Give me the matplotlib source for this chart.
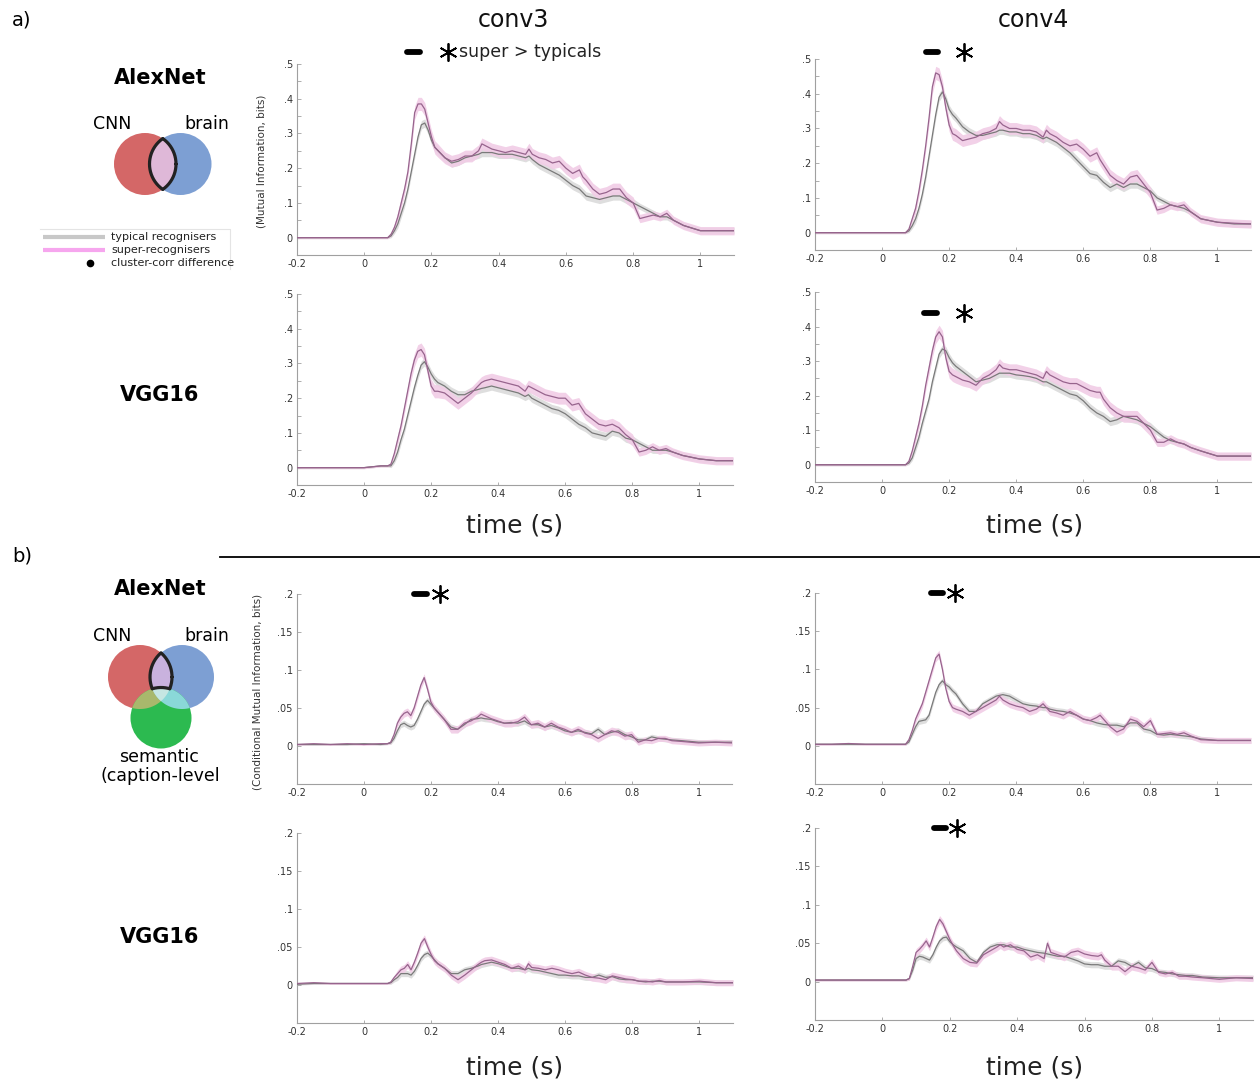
import numpy as np
import matplotlib
matplotlib.use("Agg")
import matplotlib.pyplot as plt
from matplotlib.patches import Circle, Polygon

plt.rcParams["font.family"] = ["DejaVu Sans"]

# ---------------------------------------------------------------- data
time_s = np.array([
    -0.20, -0.15, -0.10, -0.05, 0.00, 0.05, 0.07, 0.08, 0.09,
    0.10, 0.11, 0.12, 0.13, 0.14, 0.15, 0.16, 0.17, 0.18, 0.19, 0.20, 0.21, 0.22,
    0.24, 0.26, 0.28, 0.30, 0.32, 0.34, 0.35, 0.36, 0.38, 0.40, 0.42, 0.44, 0.46, 0.48, 0.49, 0.50,
    0.52, 0.54, 0.56, 0.58, 0.60, 0.62, 0.64, 0.65, 0.66, 0.68, 0.70, 0.72, 0.74, 0.76, 0.78, 0.80,
    0.82, 0.84, 0.86, 0.88, 0.90, 0.92, 0.95, 1.00, 1.05, 1.10])

# a) mutual information, AlexNet conv3
mi_alex_conv3_super = [
    0, 0, 0, 0, 0, 0, 0, 0.01, 0.03,
    0.06, 0.10, 0.14, 0.19, 0.27, 0.36, 0.385, 0.385, 0.37, 0.33, 0.29, 0.26, 0.25,
    0.23, 0.22, 0.225, 0.235, 0.235, 0.25, 0.27, 0.265, 0.255, 0.25, 0.245, 0.25, 0.245, 0.24, 0.255, 0.24,
    0.23, 0.225, 0.215, 0.22, 0.20, 0.185, 0.195, 0.175, 0.165, 0.14, 0.125, 0.13, 0.14, 0.14, 0.115, 0.10,
    0.055, 0.06, 0.065, 0.06, 0.07, 0.05, 0.035, 0.02, 0.02, 0.02]
mi_alex_conv3_typical = [
    0, 0, 0, 0, 0, 0, 0, 0.005, 0.02,
    0.04, 0.07, 0.10, 0.14, 0.19, 0.24, 0.29, 0.325, 0.33, 0.31, 0.28, 0.26, 0.25,
    0.23, 0.215, 0.22, 0.23, 0.235, 0.24, 0.245, 0.245, 0.245, 0.24, 0.24, 0.24, 0.235, 0.23, 0.235, 0.225,
    0.21, 0.20, 0.19, 0.18, 0.165, 0.15, 0.14, 0.13, 0.12, 0.115, 0.11, 0.115, 0.12, 0.12, 0.11, 0.10,
    0.09, 0.08, 0.07, 0.06, 0.06, 0.05, 0.035, 0.02, 0.02, 0.02]

# a) mutual information, AlexNet conv4
mi_alex_conv4_super = [
    0, 0, 0, 0, 0, 0, 0, 0.01, 0.04,
    0.07, 0.12, 0.18, 0.25, 0.33, 0.42, 0.46, 0.455, 0.42, 0.36, 0.31, 0.285, 0.28,
    0.265, 0.27, 0.275, 0.285, 0.29, 0.30, 0.32, 0.31, 0.30, 0.30, 0.295, 0.295, 0.29, 0.275, 0.295, 0.285,
    0.275, 0.26, 0.25, 0.255, 0.24, 0.22, 0.23, 0.21, 0.195, 0.165, 0.15, 0.14, 0.16, 0.165, 0.14, 0.115,
    0.065, 0.07, 0.08, 0.075, 0.08, 0.06, 0.04, 0.03, 0.027, 0.025]
mi_alex_conv4_typical = [
    0, 0, 0, 0, 0, 0, 0, 0.005, 0.02,
    0.04, 0.07, 0.11, 0.16, 0.22, 0.28, 0.34, 0.39, 0.405, 0.385, 0.355, 0.34, 0.33,
    0.305, 0.29, 0.28, 0.28, 0.285, 0.29, 0.295, 0.295, 0.29, 0.29, 0.285, 0.285, 0.28, 0.27, 0.275, 0.27,
    0.26, 0.245, 0.23, 0.21, 0.19, 0.17, 0.165, 0.155, 0.145, 0.13, 0.14, 0.13, 0.14, 0.14, 0.13, 0.12,
    0.10, 0.09, 0.08, 0.075, 0.07, 0.06, 0.04, 0.03, 0.025, 0.025]

# a) mutual information, VGG16 conv3
mi_vgg_conv3_super = [
    0, 0, 0, 0, 0, 0.005, 0.005, 0.01, 0.04,
    0.08, 0.12, 0.17, 0.22, 0.27, 0.31, 0.335, 0.34, 0.325, 0.28, 0.235, 0.22, 0.22,
    0.215, 0.20, 0.185, 0.20, 0.215, 0.235, 0.245, 0.25, 0.255, 0.25, 0.245, 0.24, 0.235, 0.22, 0.235, 0.23,
    0.22, 0.21, 0.205, 0.20, 0.20, 0.18, 0.185, 0.17, 0.155, 0.14, 0.125, 0.12, 0.125, 0.115, 0.095, 0.08,
    0.045, 0.05, 0.06, 0.05, 0.055, 0.045, 0.035, 0.025, 0.02, 0.02]
mi_vgg_conv3_typical = [
    0, 0, 0, 0, 0, 0.005, 0.005, 0.005, 0.02,
    0.045, 0.08, 0.11, 0.15, 0.19, 0.23, 0.265, 0.295, 0.305, 0.29, 0.27, 0.255, 0.245,
    0.235, 0.22, 0.21, 0.21, 0.22, 0.225, 0.228, 0.23, 0.235, 0.23, 0.225, 0.22, 0.215, 0.205, 0.21, 0.20,
    0.19, 0.18, 0.17, 0.165, 0.155, 0.14, 0.125, 0.12, 0.115, 0.10, 0.095, 0.09, 0.105, 0.10, 0.085, 0.08,
    0.07, 0.06, 0.05, 0.05, 0.05, 0.045, 0.035, 0.025, 0.02, 0.02]

# a) mutual information, VGG16 conv4
mi_vgg_conv4_super = [
    0, 0, 0, 0, 0, 0, 0, 0.01, 0.04,
    0.08, 0.12, 0.17, 0.23, 0.28, 0.33, 0.37, 0.385, 0.37, 0.31, 0.27, 0.26, 0.255,
    0.245, 0.24, 0.23, 0.25, 0.26, 0.275, 0.29, 0.28, 0.275, 0.275, 0.27, 0.265, 0.26, 0.25, 0.27, 0.26,
    0.25, 0.24, 0.235, 0.235, 0.225, 0.215, 0.21, 0.21, 0.19, 0.165, 0.15, 0.14, 0.14, 0.14, 0.12, 0.10,
    0.065, 0.065, 0.075, 0.065, 0.06, 0.05, 0.04, 0.025, 0.025, 0.025]
mi_vgg_conv4_typical = [
    0, 0, 0, 0, 0, 0, 0, 0.005, 0.02,
    0.05, 0.08, 0.12, 0.155, 0.19, 0.24, 0.28, 0.32, 0.335, 0.33, 0.31, 0.295, 0.285,
    0.27, 0.255, 0.24, 0.245, 0.25, 0.26, 0.265, 0.265, 0.265, 0.26, 0.258, 0.255, 0.25, 0.24, 0.24, 0.235,
    0.225, 0.215, 0.205, 0.20, 0.185, 0.165, 0.15, 0.145, 0.14, 0.125, 0.13, 0.14, 0.135, 0.13, 0.12, 0.11,
    0.095, 0.08, 0.07, 0.065, 0.06, 0.05, 0.04, 0.025, 0.025, 0.025]

# b) conditional mutual information, AlexNet conv3
cmi_alex_conv3_super = [
    0.002, 0.003, 0.002, 0.003, 0.002, 0.003, 0.003, 0.005, 0.015,
    0.03, 0.038, 0.043, 0.045, 0.04, 0.05, 0.065, 0.08, 0.09, 0.075, 0.058, 0.05, 0.045,
    0.035, 0.022, 0.022, 0.03, 0.033, 0.038, 0.042, 0.04, 0.036, 0.033, 0.03, 0.03, 0.032, 0.038, 0.033, 0.028,
    0.03, 0.025, 0.03, 0.025, 0.022, 0.018, 0.022, 0.02, 0.017, 0.015, 0.01, 0.015, 0.02, 0.018, 0.013, 0.015,
    0.005, 0.008, 0.007, 0.01, 0.01, 0.007, 0.006, 0.004, 0.005, 0.004]
cmi_alex_conv3_typical = [
    0.002, 0.002, 0.002, 0.002, 0.003, 0.002, 0.003, 0.004, 0.01,
    0.02, 0.028, 0.03, 0.027, 0.025, 0.027, 0.035, 0.045, 0.055, 0.06, 0.055, 0.05, 0.045,
    0.035, 0.025, 0.022, 0.028, 0.035, 0.036, 0.037, 0.036, 0.035, 0.032, 0.03, 0.031, 0.03, 0.033, 0.03, 0.028,
    0.028, 0.025, 0.027, 0.024, 0.02, 0.018, 0.02, 0.019, 0.018, 0.016, 0.022, 0.015, 0.018, 0.02, 0.015, 0.012,
    0.008, 0.008, 0.012, 0.01, 0.009, 0.008, 0.007, 0.005, 0.005, 0.005]

# b) conditional mutual information, AlexNet conv4
cmi_alex_conv4_super = [
    0.002, 0.002, 0.003, 0.002, 0.002, 0.002, 0.002, 0.008, 0.02,
    0.035, 0.045, 0.055, 0.07, 0.085, 0.10, 0.115, 0.12, 0.10, 0.075, 0.058, 0.05, 0.048,
    0.045, 0.04, 0.045, 0.05, 0.055, 0.06, 0.065, 0.06, 0.055, 0.052, 0.05, 0.045, 0.048, 0.055, 0.05, 0.045,
    0.043, 0.04, 0.045, 0.04, 0.035, 0.033, 0.037, 0.04, 0.035, 0.025, 0.018, 0.022, 0.035, 0.032, 0.025, 0.033,
    0.015, 0.016, 0.017, 0.015, 0.017, 0.013, 0.008, 0.007, 0.007, 0.007]
cmi_alex_conv4_typical = [
    0.002, 0.002, 0.002, 0.002, 0.002, 0.002, 0.002, 0.005, 0.015,
    0.025, 0.032, 0.033, 0.034, 0.04, 0.055, 0.07, 0.08, 0.085, 0.08, 0.077, 0.072, 0.068,
    0.055, 0.045, 0.045, 0.055, 0.06, 0.065, 0.066, 0.067, 0.065, 0.06, 0.055, 0.053, 0.052, 0.05, 0.05, 0.048,
    0.046, 0.045, 0.043, 0.04, 0.035, 0.033, 0.03, 0.029, 0.028, 0.027, 0.027, 0.025, 0.03, 0.03, 0.022, 0.02,
    0.015, 0.014, 0.015, 0.014, 0.013, 0.012, 0.009, 0.007, 0.007, 0.007]

# b) conditional mutual information, VGG16 conv3
cmi_vgg_conv3_super = [
    0.002, 0.003, 0.002, 0.002, 0.002, 0.002, 0.002, 0.004, 0.01,
    0.015, 0.02, 0.022, 0.027, 0.02, 0.03, 0.042, 0.055, 0.061, 0.05, 0.04, 0.032, 0.028,
    0.022, 0.013, 0.007, 0.013, 0.02, 0.027, 0.03, 0.032, 0.033, 0.03, 0.027, 0.022, 0.025, 0.02, 0.028, 0.023,
    0.022, 0.02, 0.022, 0.02, 0.017, 0.015, 0.017, 0.015, 0.013, 0.01, 0.009, 0.007, 0.012, 0.01, 0.008, 0.007,
    0.005, 0.005, 0.004, 0.006, 0.004, 0.004, 0.004, 0.005, 0.003, 0.003]
cmi_vgg_conv3_typical = [
    0.001, 0.002, 0.002, 0.002, 0.002, 0.002, 0.002, 0.003, 0.007,
    0.01, 0.015, 0.015, 0.015, 0.013, 0.018, 0.026, 0.035, 0.04, 0.042, 0.038, 0.033, 0.028,
    0.022, 0.015, 0.015, 0.02, 0.022, 0.025, 0.027, 0.028, 0.03, 0.028, 0.025, 0.022, 0.022, 0.02, 0.022, 0.02,
    0.019, 0.017, 0.015, 0.013, 0.013, 0.012, 0.012, 0.011, 0.01, 0.01, 0.013, 0.01, 0.011, 0.008, 0.007, 0.007,
    0.005, 0.004, 0.005, 0.005, 0.004, 0.004, 0.004, 0.004, 0.003, 0.003]

# b) conditional mutual information, VGG16 conv4
cmi_vgg_conv4_super = [
    0.002, 0.002, 0.002, 0.002, 0.002, 0.002, 0.002, 0.004, 0.02,
    0.038, 0.042, 0.047, 0.053, 0.045, 0.058, 0.072, 0.081, 0.075, 0.065, 0.055, 0.047, 0.04,
    0.03, 0.025, 0.024, 0.035, 0.04, 0.045, 0.048, 0.045, 0.048, 0.042, 0.04, 0.032, 0.035, 0.03, 0.05, 0.038,
    0.035, 0.032, 0.038, 0.04, 0.036, 0.034, 0.033, 0.035, 0.028, 0.02, 0.02, 0.013, 0.02, 0.018, 0.015, 0.025,
    0.012, 0.01, 0.012, 0.007, 0.007, 0.006, 0.005, 0.003, 0.005, 0.004]
cmi_vgg_conv4_typical = [
    0.002, 0.002, 0.002, 0.002, 0.002, 0.002, 0.002, 0.004, 0.015,
    0.03, 0.033, 0.032, 0.03, 0.028, 0.035, 0.045, 0.053, 0.057, 0.058, 0.052, 0.048, 0.045,
    0.04, 0.03, 0.025, 0.038, 0.045, 0.048, 0.048, 0.048, 0.045, 0.045, 0.042, 0.04, 0.038, 0.037, 0.036, 0.035,
    0.033, 0.033, 0.03, 0.027, 0.023, 0.022, 0.022, 0.021, 0.02, 0.02, 0.027, 0.025, 0.02, 0.025, 0.018, 0.017,
    0.013, 0.012, 0.01, 0.009, 0.008, 0.008, 0.006, 0.005, 0.005, 0.005]

# half-widths of the shaded error bands (bits), on the same time grid
hw_mi_super = [0.003] * 7 + [0.006, 0.010] + [0.015] * 4 + [0.019] * 9 + [0.017] * 32 + [0.012] * 10
hw_mi_typical = [0.003] * 7 + [0.005, 0.008] + [0.012] * 13 + [0.012] * 32 + [0.009] * 10
hw_cmi_super = [0.0012] * 7 + [0.002, 0.003] + [0.005] * 13 + [0.005] * 32 + [0.004] * 10
hw_cmi_typical = [0.0012] * 7 + [0.002, 0.003] + [0.004] * 13 + [0.004] * 32 + [0.0035] * 10

# significant clusters (super > typicals): (start, end) of the bar and time of the asterisk
sig_alex_conv3 = (0.127, 0.167, 0.25)
sig_alex_conv4 = (0.131, 0.167, 0.245)
sig_vgg_conv4 = (0.125, 0.163, 0.245)
sig_cmi_alex_conv3 = (0.149, 0.188, 0.226)
sig_cmi_alex_conv4 = (0.146, 0.182, 0.218)
sig_cmi_vgg_conv4 = (0.152, 0.188, 0.221)

x_ticks = [-0.2, 0, 0.2, 0.4, 0.6, 0.8, 1]
x_tick_labels = ["-0.2", "0", "0.2", "0.4", "0.6", "0.8", "1"]
mi_ticks = [0, 0.1, 0.2, 0.3, 0.4, 0.5]
mi_tick_labels = ["0", ".1", ".2", ".3", ".4", ".5"]
cmi_ticks = [0, 0.05, 0.1, 0.15, 0.2]
cmi_tick_labels = ["0", ".05", ".1", ".15", ".2"]

# ---------------------------------------------------------------- style
C_SUPER_LINE = "#97648d"
C_SUPER_BAND = "#f1cde6"
C_TYP_LINE = "#7a7a7a"
C_TYP_BAND = "#dedede"
C_SPINE = "#a0a0a0"
C_TICKTXT = "#333333"

W, H = 1260, 1082
fig = plt.figure(figsize=(W / 100, H / 100), dpi=100)
fig.patch.set_facecolor("white")


def px_axes(left, top, right, bottom):
    return fig.add_axes([left / W, 1 - bottom / H, (right - left) / W, (bottom - top) / H])


def draw_panel(rect, sup, typ, kind, sig=None, sig_y=None):
    ax = px_axes(*rect)
    sup = np.asarray(sup)
    typ = np.asarray(typ)
    if kind == "mi":
        hs, ht = np.asarray(hw_mi_super), np.asarray(hw_mi_typical)
        ax.set_ylim(-0.05, 0.5)
        ax.set_yticks(mi_ticks)
        ax.set_yticklabels(mi_tick_labels)
        ax.set_yticks(np.arange(0, 0.51, 0.05), minor=True)
    else:
        hs, ht = np.asarray(hw_cmi_super), np.asarray(hw_cmi_typical)
        ax.set_ylim(-0.05, 0.2)
        ax.set_yticks(cmi_ticks)
        ax.set_yticklabels(cmi_tick_labels)
    ax.fill_between(time_s, typ - ht, typ + ht, color=C_TYP_BAND, lw=0, zorder=1)
    ax.fill_between(time_s, sup - hs, sup + hs, color=C_SUPER_BAND, lw=0, alpha=0.92, zorder=2)
    ax.plot(time_s, typ, color=C_TYP_LINE, lw=0.9, zorder=3)
    ax.plot(time_s, sup, color=C_SUPER_LINE, lw=0.9, zorder=4)
    ax.set_xlim(-0.2, 1.1)
    ax.set_xticks(x_ticks)
    ax.set_xticklabels(x_tick_labels)
    for s in ("top", "right"):
        ax.spines[s].set_visible(False)
    for s in ("left", "bottom"):
        ax.spines[s].set_color(C_SPINE)
        ax.spines[s].set_linewidth(0.8)
    ax.tick_params(axis="both", which="both", direction="in", colors=C_SPINE,
                   labelcolor=C_TICKTXT, labelsize=7, width=0.6)
    ax.tick_params(axis="y", which="major", length=3, pad=3)
    ax.tick_params(axis="y", which="minor", length=3)
    ax.tick_params(axis="x", which="major", length=2, pad=3)
    ax.set_facecolor("none")
    if sig is not None:
        t0, t1, ts = sig
        ax.plot([t0, t1], [sig_y, sig_y], color="black", lw=4.2,
                solid_capstyle="round", clip_on=False, zorder=6)
        ax.plot([ts], [sig_y], marker=(6, 2, 0), ms=13, mew=1.3, color="black",
                clip_on=False, zorder=6)
    return ax


# a) mutual information panels
ax_a1 = draw_panel((297, 64, 734, 255), mi_alex_conv3_super, mi_alex_conv3_typical, "mi",
                   sig_alex_conv3, 0.535)
ax_a1.text(0.283, 0.535, "super > typicals", fontsize=12.5, va="center", ha="left",
           color="#222222", transform=ax_a1.transData, clip_on=False)
draw_panel((815, 59, 1251, 250), mi_alex_conv4_super, mi_alex_conv4_typical, "mi",
           sig_alex_conv4, 0.52)
draw_panel((297, 294, 733, 485), mi_vgg_conv3_super, mi_vgg_conv3_typical, "mi")
draw_panel((815, 292, 1251, 482), mi_vgg_conv4_super, mi_vgg_conv4_typical, "mi",
           sig_vgg_conv4, 0.44)

# b) conditional mutual information panels
draw_panel((297, 594, 732, 784), cmi_alex_conv3_super, cmi_alex_conv3_typical, "cmi",
           sig_cmi_alex_conv3, 0.2)
draw_panel((815, 593, 1251, 784), cmi_alex_conv4_super, cmi_alex_conv4_typical, "cmi",
           sig_cmi_alex_conv4, 0.2)
draw_panel((297, 833, 733, 1023), cmi_vgg_conv3_super, cmi_vgg_conv3_typical, "cmi")
draw_panel((815, 828, 1253, 1020), cmi_vgg_conv4_super, cmi_vgg_conv4_typical, "cmi",
           sig_cmi_vgg_conv4, 0.2)

# ---------------------------------------------------------------- annotations layer
ov = fig.add_axes([0, 0, 1, 1], zorder=-1)
ov.set_xlim(0, W)
ov.set_ylim(H, 0)
ov.axis("off")

ov.text(12, 20, "a)", fontsize=14, va="center", ha="left")
ov.text(12, 556, "b)", fontsize=14, va="center", ha="left")
ov.text(513, 20, "conv3", fontsize=17, ha="center", va="center", color="#111111")
ov.text(1033, 20, "conv4", fontsize=17, ha="center", va="center", color="#111111")
for y in (526, 1068):
    ov.text(515, y, "time (s)", fontsize=18, ha="center", va="center", color="#222222")
    ov.text(1035, y, "time (s)", fontsize=18, ha="center", va="center", color="#222222")
ov.plot([220, 1260], [557, 557], color="black", lw=1.3)

ov.text(262, 161, "(Mutual Information, bits)", rotation=90, fontsize=7.5,
        ha="center", va="center", color="#333333")
ov.text(258, 692, "(Conditional Mutual Information, bits)", rotation=90, fontsize=7.5,
        ha="center", va="center", color="#333333")

for y, name in ((78, "AlexNet"), (395, "VGG16"), (589, "AlexNet"), (937, "VGG16")):
    ov.text(160, y, name, fontsize=15, fontweight="bold", ha="center", va="center")

# legend
ov.plot([40, 230, 230], [229, 229, 269], color="#e4e4e4", lw=0.8)
ov.plot([43, 105], [237, 237], color="#c8c8c8", lw=3, solid_capstyle="butt")
ov.plot([43, 105], [250, 250], color="#f6a6ee", lw=3, solid_capstyle="butt")
ov.plot([90], [263], "o", color="black", ms=4.5)
for y, txt in ((237, "typical recognisers"), (250, "super-recognisers"),
               (263, "cluster-corr difference")):
    ov.text(111, y, txt, fontsize=8, va="center", ha="left", color="#222222")


# ---------------------------------------------------------------- Venn diagrams
def ring(c, r, n=721):
    a = np.linspace(0, 2 * np.pi, n)
    return np.column_stack([c[0] + r * np.cos(a), c[1] + r * np.sin(a)])


def inside(p, c, r, eps=1e-6):
    return np.hypot(p[:, 0] - c[0], p[:, 1] - c[1]) <= r + eps


def convex_overlap(circles):
    pts = []
    for i, (c, r) in enumerate(circles):
        p = ring(c, r)
        m = np.ones(len(p), bool)
        for j, (c2, r2) in enumerate(circles):
            if j != i:
                m &= inside(p, c2, r2)
        pts.append(p[m])
    pts = np.vstack(pts)
    cen = pts.mean(axis=0)
    order = np.argsort(np.arctan2(pts[:, 1] - cen[1], pts[:, 0] - cen[0]))
    return pts[order]


def arc(c, r, keep_in=(), keep_out=()):
    p = ring(c, r)
    m = np.ones(len(p), bool)
    for c2, r2 in keep_in:
        m &= inside(p, c2, r2)
    for c2, r2 in keep_out:
        m &= ~inside(p, c2, r2, eps=-1e-6)
    q = p.copy()
    q[~m] = np.nan
    return q


RED, BLUE, GREEN = "#d46767", "#7d9fd3", "#2cba50"

# a) two-set diagram
ra = ((145, 164), 31)
ba = ((180.5, 164), 31)
ov.add_patch(Circle(*ra, color=RED, lw=0))
ov.add_patch(Circle(*ba, color=BLUE, lw=0))
ov.add_patch(Polygon(convex_overlap([ra, ba]), closed=True, color="#dfb8d8", lw=0))
for q in (arc(*ra, keep_in=[ba]), arc(*ba, keep_in=[ra])):
    ov.plot(q[:, 0], q[:, 1], color="#222222", lw=2.3, solid_capstyle="round",
            solid_joinstyle="round")
ov.text(112, 124, "CNN", fontsize=12.5, ha="center", va="center")
ov.text(207, 124, "brain", fontsize=12.5, ha="center", va="center")

# b) three-set diagram
rb = ((140, 677), 32)
bb = ((182, 677), 32)
gb = ((161, 718), 30.5)
ov.add_patch(Circle(*rb, color=RED, lw=0))
ov.add_patch(Circle(*bb, color=BLUE, lw=0))
ov.add_patch(Polygon(convex_overlap([rb, bb]), closed=True, color="#c9b2de", lw=0))
ov.add_patch(Circle(*gb, color=GREEN, lw=0))
ov.add_patch(Polygon(convex_overlap([rb, gb]), closed=True, color="#a8b86c", lw=0))
ov.add_patch(Polygon(convex_overlap([bb, gb]), closed=True, color="#8ad8d8", lw=0))
ov.add_patch(Polygon(convex_overlap([rb, bb, gb]), closed=True, color="#c6e6e2", lw=0))
for q in (arc(*rb, keep_in=[bb], keep_out=[gb]),
          arc(*bb, keep_in=[rb], keep_out=[gb]),
          arc(*gb, keep_in=[rb, bb])):
    ov.plot(q[:, 0], q[:, 1], color="#222222", lw=2.3, solid_capstyle="round",
            solid_joinstyle="round")
ov.text(112, 636, "CNN", fontsize=12.5, ha="center", va="center")
ov.text(207, 636, "brain", fontsize=12.5, ha="center", va="center")
ov.text(159, 757, "semantic", fontsize=12.5, ha="center", va="center")
ov.text(160, 776, "(caption-level", fontsize=12.5, ha="center", va="center")

fig.savefig("out.png", dpi=100, facecolor="white")
